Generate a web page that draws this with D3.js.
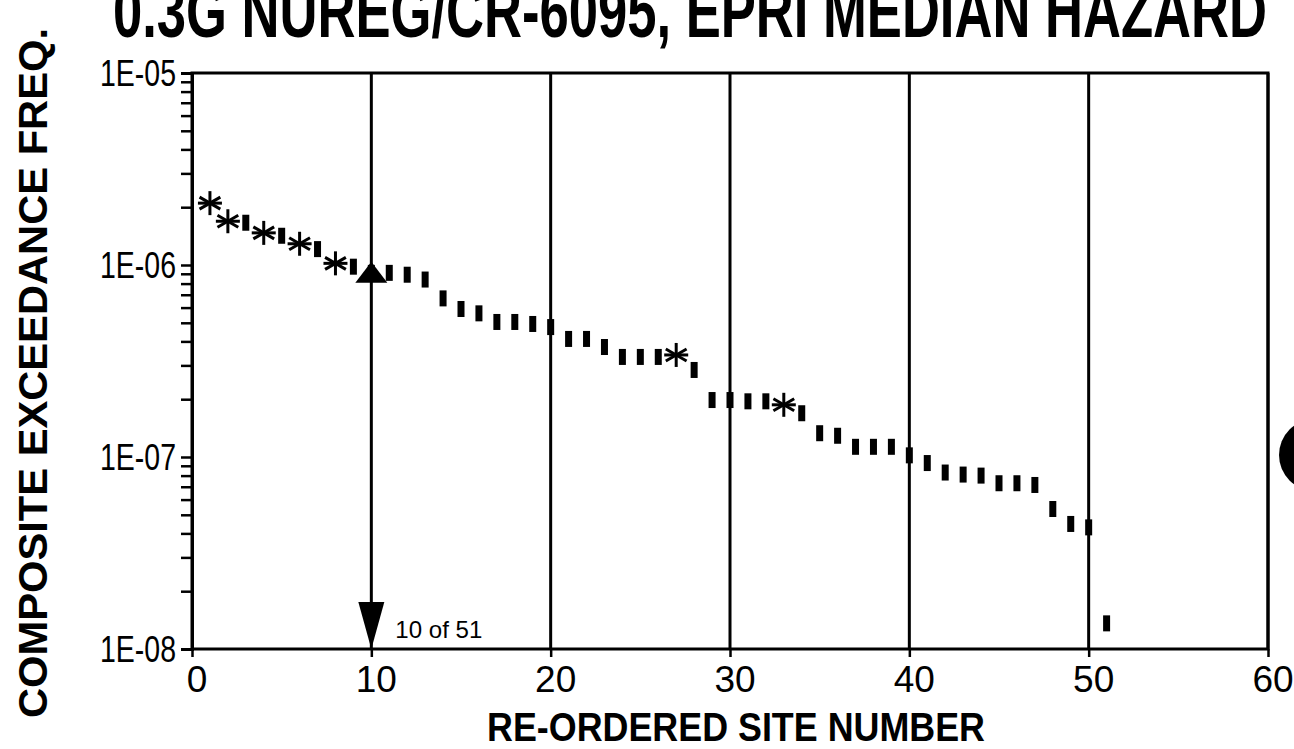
<!DOCTYPE html>
<html>
<head>
<meta charset="utf-8">
<script src="https://cdn.jsdelivr.net/npm/d3@7"></script>
<style>
  body { margin: 0; background: #fff; }
  svg { display: block; }
  text { font-family: "Liberation Sans", Arial, sans-serif; fill: #000; }
</style>
</head>
<body>
<svg id="chart" width="1294" height="749"></svg>
<script>
// re-ordered site numbers and their composite exceedance frequency
const sites = d3.range(1, 52);
const freqs = [2.1e-6, 1.69e-6, 1.66e-6, 1.47e-6, 1.42e-6, 1.29e-6, 1.21e-6, 1.02e-6, 0.98e-6, 0.91e-6,
               0.91e-6, 0.89e-6, 0.84e-6, 6.7e-7, 5.9e-7, 5.6e-7, 5.05e-7, 5.05e-7, 4.93e-7, 4.75e-7,
               4.12e-7, 4.12e-7, 3.74e-7, 3.32e-7, 3.32e-7, 3.32e-7, 3.4e-7, 2.84e-7, 1.98e-7, 1.98e-7,
               1.95e-7, 1.95e-7, 1.87e-7, 1.69e-7, 1.33e-7, 1.29e-7, 1.13e-7, 1.13e-7, 1.13e-7, 1.02e-7,
               9.3e-8, 8.3e-8, 8.1e-8, 8.0e-8, 7.3e-8, 7.3e-8, 7.15e-8, 5.36e-8, 4.48e-8, 4.3e-8,
               1.36e-8];
// sites drawn with an asterisk instead of a bar
const starSites = [1, 2, 4, 6, 8, 27, 33];
const xTicks = [0, 10, 20, 30, 40, 50, 60];
const yTicks = [1e-8, 1e-7, 1e-6, 1e-5];
const yLabels = ["1E-08", "1E-07", "1E-06", "1E-05"];
const markSite = 10;
const markFreq = 0.91e-6;

const svg = d3.select("#chart");
const pLeft = 192, pRight = 1268, pTop = 73, pBottom = 649;

const x = d3.scaleLinear().domain([0, 60]).range([pLeft, pRight]);
const y = d3.scaleLog().domain([1e-8, 1e-5]).range([pBottom, pTop]);

// frame
svg.append("rect")
  .attr("x", pLeft).attr("y", pTop)
  .attr("width", pRight - pLeft).attr("height", pBottom - pTop)
  .attr("fill", "none").attr("stroke", "#000").attr("stroke-width", 3);

// vertical lines every 10 sites
svg.selectAll("line.vgrid")
  .data(xTicks.slice(1))
  .enter().append("line")
  .attr("class", "vgrid")
  .attr("x1", d => x(d)).attr("x2", d => x(d))
  .attr("y1", pTop).attr("y2", pBottom)
  .attr("stroke", "#000").attr("stroke-width", 3);

// y axis with minor ticks
let minor = [];
for (let e = -8; e < -5; e++) {
  for (let m = 1; m <= 9; m++) minor.push(m * Math.pow(10, e));
}
minor.push(1e-5);
const yAxis = d3.axisLeft(y)
  .tickValues(minor)
  .tickSize(11)
  .tickFormat("");
svg.append("g")
  .attr("transform", `translate(${pLeft},0)`)
  .call(yAxis)
  .call(g => g.select(".domain").attr("stroke-width", 3))
  .call(g => g.selectAll(".tick line").attr("stroke-width", 2.5));

svg.selectAll("text.ylab")
  .data(yTicks)
  .enter().append("text")
  .attr("class", "ylab")
  .attr("x", 100)
  .attr("y", d => y(d) + 13)
  .attr("font-size", 37)
  .attr("textLength", 76)
  .attr("lengthAdjust", "spacingAndGlyphs")
  .text((d, i) => yLabels[i]);

// x axis
const xAxis = d3.axisBottom(x).tickValues(xTicks).tickSize(8).tickFormat("");
svg.append("g")
  .attr("transform", `translate(0,${pBottom})`)
  .call(xAxis)
  .call(g => g.select(".domain").remove())
  .call(g => g.selectAll(".tick line").attr("stroke-width", 2.5));

svg.selectAll("text.xlab")
  .data(xTicks)
  .enter().append("text")
  .attr("class", "xlab")
  .attr("x", d => x(d) + 5)
  .attr("y", pBottom + 43)
  .attr("text-anchor", "middle")
  .attr("font-size", 37)
  .text(d => d);

// titles
svg.append("text")
  .attr("x", 113).attr("y", 37)
  .attr("font-size", 74).attr("font-weight", "bold")
  .attr("textLength", 1154)
  .attr("lengthAdjust", "spacingAndGlyphs")
  .text("0.3G NUREG/CR-6095, EPRI MEDIAN HAZARD");

svg.append("text")
  .attr("transform", "translate(47,718) rotate(-90)")
  .attr("font-size", 41).attr("font-weight", "bold")
  .attr("textLength", 690)
  .attr("lengthAdjust", "spacingAndGlyphs")
  .text("COMPOSITE EXCEEDANCE FREQ.");

svg.append("text")
  .attr("x", 487).attr("y", 741)
  .attr("font-size", 41).attr("font-weight", "bold")
  .attr("textLength", 498)
  .attr("lengthAdjust", "spacingAndGlyphs")
  .text("RE-ORDERED SITE NUMBER");

// data marks
const pts = sites.map((s, i) => ({site: s, f: freqs[i], star: starSites.includes(s)}));

svg.selectAll("rect.bar")
  .data(pts.filter(d => !d.star))
  .enter().append("rect")
  .attr("class", "bar")
  .attr("x", d => x(d.site) - 3.5)
  .attr("y", d => y(d.f) - 8)
  .attr("width", 7).attr("height", 16)
  .attr("fill", "#000");

svg.selectAll("g.star")
  .data(pts.filter(d => d.star))
  .enter().append("g")
  .attr("class", "star")
  .attr("transform", d => `translate(${x(d.site)},${y(d.f)})`)
  .each(function () {
    const g = d3.select(this);
    [0, 60, 120].forEach(a => {
      g.append("line")
        .attr("x1", -12).attr("x2", 12).attr("y1", 0).attr("y2", 0)
        .attr("transform", `rotate(${a + 90})`)
        .attr("stroke", "#000").attr("stroke-width", 3);
    });
    g.append("line")
      .attr("x1", -12).attr("x2", 12).attr("y1", 0).attr("y2", 0)
      .attr("stroke", "#000").attr("stroke-width", 3);
  });

// 10 of 51 marker
const mx = x(markSite), my = y(markFreq);
svg.append("path")
  .attr("d", `M${mx},${my - 11} L${mx - 16},${my + 10} L${mx + 16},${my + 10} Z`)
  .attr("fill", "#000");
svg.append("path")
  .attr("d", `M${mx},${pBottom} L${mx - 13},${pBottom - 47} L${mx + 13},${pBottom - 47} Z`)
  .attr("fill", "#000");
svg.append("text")
  .attr("x", mx + 24).attr("y", pBottom - 11)
  .attr("font-size", 24)
  .attr("textLength", 87)
  .attr("lengthAdjust", "spacingAndGlyphs")
  .text("10 of 51");

// scan artefact at the right margin
svg.append("circle")
  .attr("cx", 1315).attr("cy", 455).attr("r", 36)
  .attr("fill", "#000");
</script>
</body>
</html>
